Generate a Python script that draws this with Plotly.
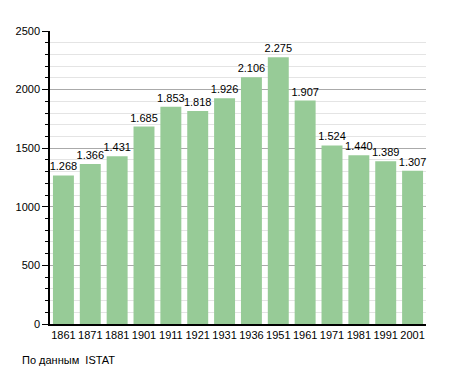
import plotly.graph_objects as go

years = ["1861", "1871", "1881", "1901", "1911", "1921", "1931", "1936", "1951", "1961", "1971", "1981", "1991", "2001"]
population = [1268, 1366, 1431, 1685, 1853, 1818, 1926, 2106, 2275, 1907, 1524, 1440, 1389, 1307]
labels = [f"{v // 1000}.{v % 1000:03d}" for v in population]
y_ticks = [0, 500, 1000, 1500, 2000, 2500]

fig = go.Figure()
fig.add_trace(go.Bar(
    x=years, y=population, text=labels, textposition="outside",
    textfont=dict(size=11, color="#000"), constraintext="none",
    marker=dict(color="#97cb97", line=dict(width=0)),
    cliponaxis=False, width=0.78,
))

fig.update_layout(
    width=455, height=373,
    margin=dict(l=50, r=29, t=31, b=49),
    paper_bgcolor="white", plot_bgcolor="white",
    font=dict(family="Liberation Sans, Arial, sans-serif", size=11, color="#000"),
    showlegend=False,
    uniformtext=dict(mode=False),
    xaxis=dict(
        type="category", showline=True, linecolor="#000", linewidth=1.5,
        ticks="", tickfont=dict(size=11), showgrid=False,
    ),
    yaxis=dict(
        range=[0, 2500], tickvals=y_ticks, showline=True, linecolor="#000", linewidth=1.5,
        ticks="outside", ticklen=6, tickcolor="#000",
        gridcolor="#aaaaaa", gridwidth=1, zeroline=False,
        minor=dict(dtick=100, ticks="outside", ticklen=3, tickcolor="#000",
                   showgrid=True, gridcolor="#e4e4e4", gridwidth=1),
        tickfont=dict(size=11),
    ),
    annotations=[dict(
        text="По данным  ISTAT", x=-30/376, y=-36/293, xref="paper", yref="paper",
        xanchor="left", yanchor="middle", showarrow=False, font=dict(size=11),
    )],
)
fig.write_html("out.html", config={"displayModeBar": False},
               post_script="document.body.style.margin='0';")
